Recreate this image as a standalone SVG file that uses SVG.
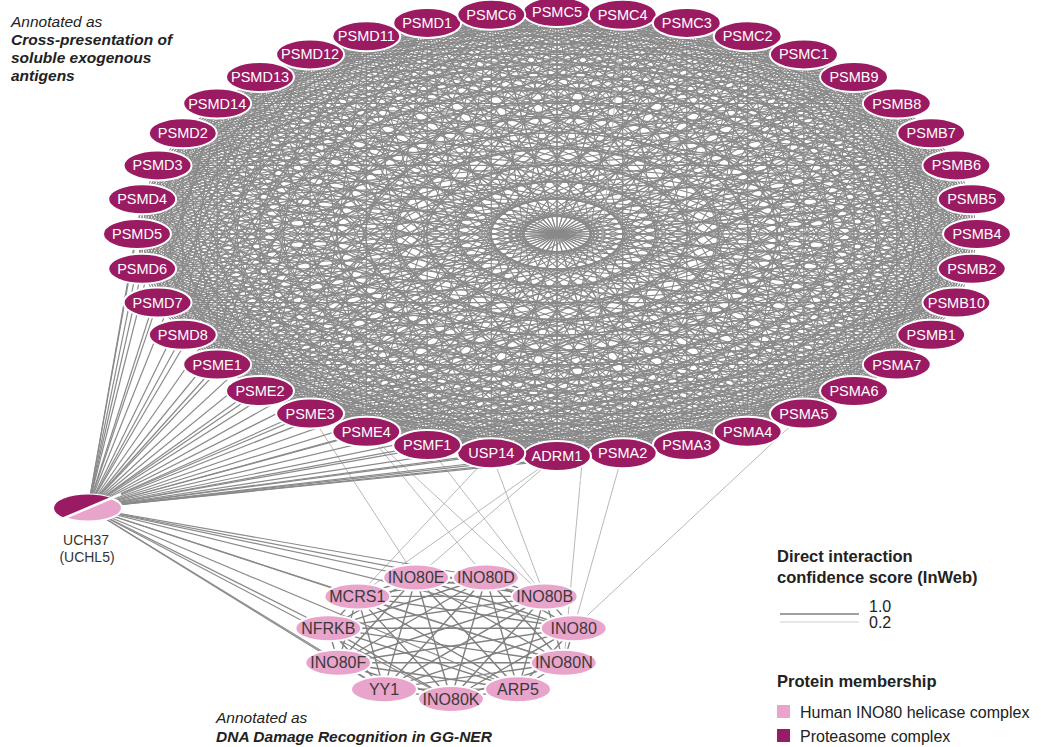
<svg xmlns="http://www.w3.org/2000/svg" xmlns:xlink="http://www.w3.org/1999/xlink" width="1041" height="747" viewBox="0 0 1041 747">
<style>
text{font-family:"Liberation Sans",Arial,sans-serif}
.pn ellipse{fill:#9b1b63;stroke:#fff;stroke-width:2}
.pn text{fill:#fff;font-size:14.5px;text-anchor:middle}
.in ellipse{fill:#e9a4cc;stroke:#fff;stroke-width:2}
.in text{fill:#3a3a3a;font-size:16px;text-anchor:middle}
.mesh{fill:none;stroke:#898989;stroke-width:1.1;vector-effect:non-scaling-stroke}
.mesh2{fill:none;stroke:#808080;stroke-width:1.4;vector-effect:non-scaling-stroke}
.uch line{stroke:#8a8a8a;stroke-width:1.2}
.cross line{stroke:#b0b0b0;stroke-width:0.9}
.lbl{fill:#333;font-size:14px;text-anchor:middle}
.ann{fill:#222;font-size:15.5px;font-style:italic}
.annb{font-weight:bold}
.leg{fill:#222;font-size:16px}
.legb{fill:#222;font-size:16.5px;font-weight:bold}
</style>
<defs>
<path id="star40" class="mesh" d="M1000 0L987.7 156.4M1000 0L951.1 309M1000 0L891 454M1000 0L809 587.8M1000 0L707.1 707.1M1000 0L587.8 809M1000 0L454 891M1000 0L309 951.1M1000 0L156.4 987.7M1000 0L0 1000M1000 0L-156.4 987.7M1000 0L-309 951.1M1000 0L-454 891M1000 0L-587.8 809M1000 0L-707.1 707.1M1000 0L-809 587.8M1000 0L-891 454M1000 0L-951.1 309M1000 0L-987.7 156.4M1000 0L-1000 0"/>
<path id="star11" class="mesh2" d="M0 1000L540.6 841.3M0 1000L909.6 415.4M0 1000L989.8 -142.3M0 1000L755.7 -654.9M0 1000L281.7 -959.5"/>
<clipPath id="uchTop"><polygon points="40,528 140,486 140,460 40,460"/></clipPath>
</defs>
<rect width="1041" height="747" fill="#fff"/>
<g id="connectors">
<g id="proteasome-mesh" transform="translate(557,234) scale(0.42,0.222)">
<use xlink:href="#star40"/><use xlink:href="#star40" transform="rotate(9)"/><use xlink:href="#star40" transform="rotate(18)"/><use xlink:href="#star40" transform="rotate(27)"/><use xlink:href="#star40" transform="rotate(36)"/><use xlink:href="#star40" transform="rotate(45)"/><use xlink:href="#star40" transform="rotate(54)"/><use xlink:href="#star40" transform="rotate(63)"/><use xlink:href="#star40" transform="rotate(72)"/><use xlink:href="#star40" transform="rotate(81)"/>
<use xlink:href="#star40" transform="rotate(90)"/><use xlink:href="#star40" transform="rotate(99)"/><use xlink:href="#star40" transform="rotate(108)"/><use xlink:href="#star40" transform="rotate(117)"/><use xlink:href="#star40" transform="rotate(126)"/><use xlink:href="#star40" transform="rotate(135)"/><use xlink:href="#star40" transform="rotate(144)"/><use xlink:href="#star40" transform="rotate(153)"/><use xlink:href="#star40" transform="rotate(162)"/><use xlink:href="#star40" transform="rotate(171)"/>
<use xlink:href="#star40" transform="rotate(180)"/><use xlink:href="#star40" transform="rotate(189)"/><use xlink:href="#star40" transform="rotate(198)"/><use xlink:href="#star40" transform="rotate(207)"/><use xlink:href="#star40" transform="rotate(216)"/><use xlink:href="#star40" transform="rotate(225)"/><use xlink:href="#star40" transform="rotate(234)"/><use xlink:href="#star40" transform="rotate(243)"/><use xlink:href="#star40" transform="rotate(252)"/><use xlink:href="#star40" transform="rotate(261)"/>
<use xlink:href="#star40" transform="rotate(270)"/><use xlink:href="#star40" transform="rotate(279)"/><use xlink:href="#star40" transform="rotate(288)"/><use xlink:href="#star40" transform="rotate(297)"/><use xlink:href="#star40" transform="rotate(306)"/><use xlink:href="#star40" transform="rotate(315)"/><use xlink:href="#star40" transform="rotate(324)"/><use xlink:href="#star40" transform="rotate(333)"/><use xlink:href="#star40" transform="rotate(342)"/><use xlink:href="#star40" transform="rotate(351)"/>
</g>
<g id="ino80-mesh" transform="translate(451,637) scale(0.124,0.062)">
<use xlink:href="#star11"/><use xlink:href="#star11" transform="rotate(32.7273)"/><use xlink:href="#star11" transform="rotate(65.4545)"/><use xlink:href="#star11" transform="rotate(98.1818)"/><use xlink:href="#star11" transform="rotate(130.9091)"/><use xlink:href="#star11" transform="rotate(163.6364)"/><use xlink:href="#star11" transform="rotate(196.3636)"/><use xlink:href="#star11" transform="rotate(229.0909)"/><use xlink:href="#star11" transform="rotate(261.8182)"/><use xlink:href="#star11" transform="rotate(294.5455)"/><use xlink:href="#star11" transform="rotate(327.2727)"/>
</g>
<g id="cross-edges" class="cross">
<line x1="310.1" y1="413.6" x2="416.1" y2="577.5"/>
<line x1="366.3" y1="431.8" x2="485.9" y2="577.5"/>
<line x1="366.3" y1="431.8" x2="544.7" y2="596.4"/>
<line x1="491.3" y1="453.3" x2="544.7" y2="596.4"/>
<line x1="427.2" y1="445.1" x2="544.7" y2="596.4"/>
<line x1="357.3" y1="596.4" x2="491.3" y2="453.3"/>
<line x1="357.3" y1="596.4" x2="557" y2="456"/>
<line x1="416.1" y1="577.5" x2="557" y2="456"/>
<line x1="622.7" y1="453.3" x2="573.7" y2="628.2"/>
<line x1="803.9" y1="413.6" x2="573.7" y2="628.2"/>
<line x1="622.7" y1="14.7" x2="563.8" y2="662.8"/>
</g>
<g id="uch37-edges" class="uch">
<line x1="88" y1="508" x2="557" y2="12"/><line x1="88" y1="508" x2="622.7" y2="14.7"/><line x1="88" y1="508" x2="686.8" y2="22.9"/><line x1="88" y1="508" x2="747.7" y2="36.2"/><line x1="88" y1="508" x2="803.9" y2="54.4"/><line x1="88" y1="508" x2="854" y2="77"/><line x1="88" y1="508" x2="896.8" y2="103.5"/><line x1="88" y1="508" x2="931.2" y2="133.2"/><line x1="88" y1="508" x2="956.4" y2="165.4"/><line x1="88" y1="508" x2="971.8" y2="199.3"/>
<line x1="88" y1="508" x2="977" y2="234"/><line x1="88" y1="508" x2="971.8" y2="268.7"/><line x1="88" y1="508" x2="956.4" y2="302.6"/><line x1="88" y1="508" x2="931.2" y2="334.8"/><line x1="88" y1="508" x2="896.8" y2="364.5"/><line x1="88" y1="508" x2="854" y2="391"/><line x1="88" y1="508" x2="803.9" y2="413.6"/><line x1="88" y1="508" x2="747.7" y2="431.8"/><line x1="88" y1="508" x2="686.8" y2="445.1"/><line x1="88" y1="508" x2="622.7" y2="453.3"/>
<line x1="88" y1="508" x2="557" y2="456"/><line x1="88" y1="508" x2="491.3" y2="453.3"/><line x1="88" y1="508" x2="427.2" y2="445.1"/><line x1="88" y1="508" x2="366.3" y2="431.8"/><line x1="88" y1="508" x2="310.1" y2="413.6"/><line x1="88" y1="508" x2="260" y2="391"/><line x1="88" y1="508" x2="217.2" y2="364.5"/><line x1="88" y1="508" x2="182.8" y2="334.8"/><line x1="88" y1="508" x2="157.6" y2="302.6"/><line x1="88" y1="508" x2="142.2" y2="268.7"/>
<line x1="88" y1="508" x2="137" y2="234"/><line x1="88" y1="508" x2="142.2" y2="199.3"/><line x1="88" y1="508" x2="157.6" y2="165.4"/><line x1="88" y1="508" x2="182.8" y2="133.2"/><line x1="88" y1="508" x2="217.2" y2="103.5"/><line x1="88" y1="508" x2="260" y2="77"/><line x1="88" y1="508" x2="310.1" y2="54.4"/><line x1="88" y1="508" x2="366.3" y2="36.2"/><line x1="88" y1="508" x2="427.2" y2="22.9"/><line x1="88" y1="508" x2="491.3" y2="14.7"/>
<line x1="88" y1="508" x2="451" y2="699"/><line x1="88" y1="508" x2="518" y2="689.2"/><line x1="88" y1="508" x2="563.8" y2="662.8"/><line x1="88" y1="508" x2="573.7" y2="628.2"/><line x1="88" y1="508" x2="544.7" y2="596.4"/><line x1="88" y1="508" x2="485.9" y2="577.5"/><line x1="88" y1="508" x2="416.1" y2="577.5"/><line x1="88" y1="508" x2="357.3" y2="596.4"/><line x1="88" y1="508" x2="328.3" y2="628.2"/><line x1="88" y1="508" x2="338.2" y2="662.8"/><line x1="88" y1="508" x2="384" y2="689.2"/>
</g>
</g>
<g id="proteasome-nodes">
<g id="PSMC5" class="pn"><ellipse cx="557" cy="12" rx="34" ry="15"/><text x="557" y="17">PSMC5</text></g>
<g id="PSMC4" class="pn"><ellipse cx="622.7" cy="14.7" rx="34" ry="15"/><text x="622.7" y="19.7">PSMC4</text></g>
<g id="PSMC3" class="pn"><ellipse cx="686.8" cy="22.9" rx="34" ry="15"/><text x="686.8" y="27.9">PSMC3</text></g>
<g id="PSMC2" class="pn"><ellipse cx="747.7" cy="36.2" rx="34" ry="15"/><text x="747.7" y="41.2">PSMC2</text></g>
<g id="PSMC1" class="pn"><ellipse cx="803.9" cy="54.4" rx="34" ry="15"/><text x="803.9" y="59.4">PSMC1</text></g>
<g id="PSMB9" class="pn"><ellipse cx="854" cy="77" rx="34" ry="15"/><text x="854" y="82">PSMB9</text></g>
<g id="PSMB8" class="pn"><ellipse cx="896.8" cy="103.5" rx="34" ry="15"/><text x="896.8" y="108.5">PSMB8</text></g>
<g id="PSMB7" class="pn"><ellipse cx="931.2" cy="133.2" rx="34" ry="15"/><text x="931.2" y="138.2">PSMB7</text></g>
<g id="PSMB6" class="pn"><ellipse cx="956.4" cy="165.4" rx="34" ry="15"/><text x="956.4" y="170.4">PSMB6</text></g>
<g id="PSMB5" class="pn"><ellipse cx="971.8" cy="199.3" rx="34" ry="15"/><text x="971.8" y="204.3">PSMB5</text></g>
<g id="PSMB4" class="pn"><ellipse cx="977" cy="234" rx="34" ry="15"/><text x="977" y="239">PSMB4</text></g>
<g id="PSMB2" class="pn"><ellipse cx="971.8" cy="268.7" rx="34" ry="15"/><text x="971.8" y="273.7">PSMB2</text></g>
<g id="PSMB10" class="pn"><ellipse cx="956.4" cy="302.6" rx="34" ry="15"/><text x="956.4" y="307.6">PSMB10</text></g>
<g id="PSMB1" class="pn"><ellipse cx="931.2" cy="334.8" rx="34" ry="15"/><text x="931.2" y="339.8">PSMB1</text></g>
<g id="PSMA7" class="pn"><ellipse cx="896.8" cy="364.5" rx="34" ry="15"/><text x="896.8" y="369.5">PSMA7</text></g>
<g id="PSMA6" class="pn"><ellipse cx="854" cy="391" rx="34" ry="15"/><text x="854" y="396">PSMA6</text></g>
<g id="PSMA5" class="pn"><ellipse cx="803.9" cy="413.6" rx="34" ry="15"/><text x="803.9" y="418.6">PSMA5</text></g>
<g id="PSMA4" class="pn"><ellipse cx="747.7" cy="431.8" rx="34" ry="15"/><text x="747.7" y="436.8">PSMA4</text></g>
<g id="PSMA3" class="pn"><ellipse cx="686.8" cy="445.1" rx="34" ry="15"/><text x="686.8" y="450.1">PSMA3</text></g>
<g id="PSMA2" class="pn"><ellipse cx="622.7" cy="453.3" rx="34" ry="15"/><text x="622.7" y="458.3">PSMA2</text></g>
<g id="ADRM1" class="pn"><ellipse cx="557" cy="456" rx="34" ry="15"/><text x="557" y="461">ADRM1</text><text class="lbl" x="562" y="488">(hRpn13)</text></g>
<g id="USP14" class="pn"><ellipse cx="491.3" cy="453.3" rx="34" ry="15"/><text x="491.3" y="458.3">USP14</text></g>
<g id="PSMF1" class="pn"><ellipse cx="427.2" cy="445.1" rx="34" ry="15"/><text x="427.2" y="450.1">PSMF1</text></g>
<g id="PSME4" class="pn"><ellipse cx="366.3" cy="431.8" rx="34" ry="15"/><text x="366.3" y="436.8">PSME4</text></g>
<g id="PSME3" class="pn"><ellipse cx="310.1" cy="413.6" rx="34" ry="15"/><text x="310.1" y="418.6">PSME3</text></g>
<g id="PSME2" class="pn"><ellipse cx="260" cy="391" rx="34" ry="15"/><text x="260" y="396">PSME2</text></g>
<g id="PSME1" class="pn"><ellipse cx="217.2" cy="364.5" rx="34" ry="15"/><text x="217.2" y="369.5">PSME1</text></g>
<g id="PSMD8" class="pn"><ellipse cx="182.8" cy="334.8" rx="34" ry="15"/><text x="182.8" y="339.8">PSMD8</text></g>
<g id="PSMD7" class="pn"><ellipse cx="157.6" cy="302.6" rx="34" ry="15"/><text x="157.6" y="307.6">PSMD7</text></g>
<g id="PSMD6" class="pn"><ellipse cx="142.2" cy="268.7" rx="34" ry="15"/><text x="142.2" y="273.7">PSMD6</text></g>
<g id="PSMD5" class="pn"><ellipse cx="137" cy="234" rx="34" ry="15"/><text x="137" y="239">PSMD5</text></g>
<g id="PSMD4" class="pn"><ellipse cx="142.2" cy="199.3" rx="34" ry="15"/><text x="142.2" y="204.3">PSMD4</text></g>
<g id="PSMD3" class="pn"><ellipse cx="157.6" cy="165.4" rx="34" ry="15"/><text x="157.6" y="170.4">PSMD3</text></g>
<g id="PSMD2" class="pn"><ellipse cx="182.8" cy="133.2" rx="34" ry="15"/><text x="182.8" y="138.2">PSMD2</text></g>
<g id="PSMD14" class="pn"><ellipse cx="217.2" cy="103.5" rx="34" ry="15"/><text x="217.2" y="108.5">PSMD14</text></g>
<g id="PSMD13" class="pn"><ellipse cx="260" cy="77" rx="34" ry="15"/><text x="260" y="82">PSMD13</text></g>
<g id="PSMD12" class="pn"><ellipse cx="310.1" cy="54.4" rx="34" ry="15"/><text x="310.1" y="59.4">PSMD12</text></g>
<g id="PSMD11" class="pn"><ellipse cx="366.3" cy="36.2" rx="34" ry="15"/><text x="366.3" y="41.2">PSMD11</text></g>
<g id="PSMD1" class="pn"><ellipse cx="427.2" cy="22.9" rx="34" ry="15"/><text x="427.2" y="27.9">PSMD1</text></g>
<g id="PSMC6" class="pn"><ellipse cx="491.3" cy="14.7" rx="34" ry="15"/><text x="491.3" y="19.7">PSMC6</text></g>
</g>
<g id="ino80-nodes">
<g id="INO80K" class="in"><ellipse cx="451" cy="699" rx="33" ry="13"/><text x="451" y="704.5">INO80K</text></g>
<g id="ARP5" class="in"><ellipse cx="518" cy="689.2" rx="33" ry="13"/><text x="518" y="694.7">ARP5</text></g>
<g id="INO80N" class="in"><ellipse cx="563.8" cy="662.8" rx="33" ry="13"/><text x="563.8" y="668.3">INO80N</text></g>
<g id="INO80" class="in"><ellipse cx="573.7" cy="628.2" rx="33" ry="13"/><text x="573.7" y="633.7">INO80</text></g>
<g id="INO80B" class="in"><ellipse cx="544.7" cy="596.4" rx="33" ry="13"/><text x="544.7" y="601.9">INO80B</text></g>
<g id="INO80D" class="in"><ellipse cx="485.9" cy="577.5" rx="33" ry="13"/><text x="485.9" y="583">INO80D</text></g>
<g id="INO80E" class="in"><ellipse cx="416.1" cy="577.5" rx="33" ry="13"/><text x="416.1" y="583">INO80E</text></g>
<g id="MCRS1" class="in"><ellipse cx="357.3" cy="596.4" rx="33" ry="13"/><text x="357.3" y="601.9">MCRS1</text></g>
<g id="NFRKB" class="in"><ellipse cx="328.3" cy="628.2" rx="33" ry="13"/><text x="328.3" y="633.7">NFRKB</text></g>
<g id="INO80F" class="in"><ellipse cx="338.2" cy="662.8" rx="33" ry="13"/><text x="338.2" y="668.3">INO80F</text></g>
<g id="YY1" class="in"><ellipse cx="384" cy="689.2" rx="33" ry="13"/><text x="384" y="694.7">YY1</text></g>
</g>
<g id="UCH37">
<ellipse cx="88" cy="508" rx="34" ry="13.5" fill="#e9a4cc" stroke="#fff" stroke-width="2"/>
<ellipse cx="88" cy="508" rx="34" ry="13.5" fill="#9b1b63" clip-path="url(#uchTop)"/>
<line x1="55" y1="522" x2="121" y2="494" stroke="#fff" stroke-width="2.5"/>
<text class="lbl" x="86" y="545">UCH37</text>
<text class="lbl" x="87" y="562">(UCHL5)</text>
</g>
<g id="annotation-top" class="ann">
<text x="11" y="27">Annotated as</text>
<text class="annb" x="11" y="45">Cross-presentation of</text>
<text class="annb" x="11" y="63">soluble exogenous</text>
<text class="annb" x="11" y="81">antigens</text>
</g>
<g id="annotation-bottom" class="ann">
<text x="216" y="723">Annotated as</text>
<text class="annb" x="216" y="742">DNA Damage Recognition in GG-NER</text>
</g>
<g id="legend">
<text class="legb" x="777" y="562">Direct interaction</text>
<text class="legb" x="777" y="583">confidence score (InWeb)</text>
<line x1="780" y1="614" x2="859" y2="614" stroke="#808080" stroke-width="1.4"/>
<text class="leg" x="869" y="612">1.0</text>
<line x1="780" y1="622" x2="859" y2="622" stroke="#d0d0d0" stroke-width="1"/>
<text class="leg" x="869" y="628">0.2</text>
<text class="legb" x="777" y="687">Protein membership</text>
<rect x="777" y="705" width="13" height="13" fill="#e9a4cc"/>
<text class="leg" x="800" y="718">Human INO80 helicase complex</text>
<rect x="777" y="729" width="13" height="13" fill="#9b1b63"/>
<text class="leg" x="800" y="742">Proteasome complex</text>
</g>
</svg>
